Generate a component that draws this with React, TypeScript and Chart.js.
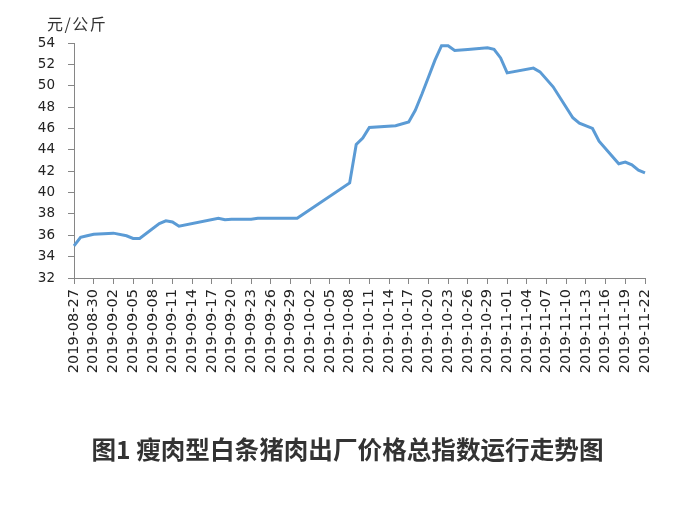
import { useEffect, useRef } from 'react';
import Chart from 'chart.js/auto';

// daily categories 2019-08-27 .. 2019-11-22
const startDay = Date.UTC(2019, 7, 27);
const dayCount = 88;
const dates: string[] = [];
for (let i = 0; i < dayCount; i++) {
    dates.push(new Date(startDay + i * 86400000).toISOString().slice(0, 10));
}

// 元/公斤, null = no reading that day (line is joined across)
const prices: (number | null)[] = [
    35.0, 35.8, 35.95, 36.1, null, null, 36.2, null, 35.95, 35.7,   // 08-27 .. 09-05
    35.7, null, null, 37.1, 37.35, 37.25, 36.85, null, null, null,   // 09-06 .. 09-15
    null, null, 37.6, 37.45, 37.5, null, null, 37.5, 37.6, null,     // 09-16 .. 09-25
    null, null, null, null, 37.6, null, null, null, null, null,      // 09-26 .. 10-05
    null, null, 40.9, 44.5, 45.1, 46.1, null, null, null, 46.25,     // 10-06 .. 10-15
    null, 46.6, 47.7, 49.2, 50.8, 52.4, 53.75, 53.75, 53.3, null,    // 10-16 .. 10-25
    53.4, null, null, 53.55, 53.4, 52.6, 51.2, null, null, null,     // 10-26 .. 11-04
    51.65, 51.3, null, 49.9, null, null, 47.0, 46.5, null, 46.0,     // 11-05 .. 11-14
    44.8, null, null, 42.7, 42.85, 42.6, 42.1, 41.85,                // 11-15 .. 11-22
];

const yMin = 32;
const yMax = 54;
const yStep = 2;
const labelEvery = 3;

const unitLabel = '元/公斤';
const titleText = '图1 瘦肉型白条猪肉出厂价格总指数运行走势图';

const axisGray = '#868686';

const App = () => {
    const canvas = useRef<HTMLCanvasElement>(null);

    useEffect(() => {
        const chart = new Chart(
            // @ts-expect-error
            canvas.current,
            {
                type: 'line',
                data: {
                    labels: dates,
                    datasets: [
                        {
                            data: prices,
                            borderColor: '#5B9BD5',
                            borderWidth: 3,
                            pointRadius: 0,
                            tension: 0,
                            spanGaps: true,
                        }
                    ],
                },
                options: {
                    animation: false,
                    responsive: true,
                    maintainAspectRatio: false,
                    layout: {
                        padding: { top: 43, right: 50, bottom: 127, left: 0 }
                    },
                    plugins: {
                        legend: { display: false },
                        tooltip: { enabled: false },
                    },
                    scales: {
                        x: {
                            offset: false,
                            border: { color: axisGray, width: 1 },
                            grid: {
                                drawOnChartArea: false,
                                color: axisGray,
                                tickLength: 6,
                            },
                            ticks: {
                                autoSkip: false,
                                maxRotation: 90,
                                minRotation: 90,
                                padding: 5,
                                color: '#222',
                                font: { family: '"DejaVu Sans", sans-serif', size: 14.5 },
                                callback: (_v: any, i: number) => (i % labelEvery === 0 ? dates[i] : null),
                            },
                            afterFit: (scale: any) => { scale.height = 100; },
                        },
                        y: {
                            min: yMin,
                            max: yMax,
                            border: { color: axisGray, width: 1 },
                            grid: {
                                drawOnChartArea: false,
                                color: axisGray,
                                tickLength: 6,
                            },
                            ticks: {
                                stepSize: yStep,
                                padding: 13,
                                color: '#222',
                                font: { family: '"DejaVu Sans", sans-serif', size: 13.5 },
                            },
                            afterFit: (scale: any) => { scale.width = 74; },
                        },
                    },
                }
            }
        );

        return () => {
            chart.destroy();
        }
    }, [])

    return (
        <div style={{ position: 'fixed', left: 0, top: 0, width: 695, height: 505, background: '#fff' }}>
            <div style={{ position: 'absolute', inset: 0 }}>
                <canvas ref={canvas} role="img" aria-label={titleText}></canvas>
            </div>
            <div style={{
                position: 'absolute', left: 47, top: 11,
                font: '16px "Noto Sans CJK SC", sans-serif', color: '#333', letterSpacing: 1.5,
            }}>
                {unitLabel}
            </div>
            <div style={{
                position: 'absolute', left: 0, right: 0, top: 430, textAlign: 'center',
                font: 'bold 24.6px "Noto Sans CJK SC", sans-serif', color: '#333',
            }}>
                {titleText}
            </div>
        </div>
    );
}

export default App;
